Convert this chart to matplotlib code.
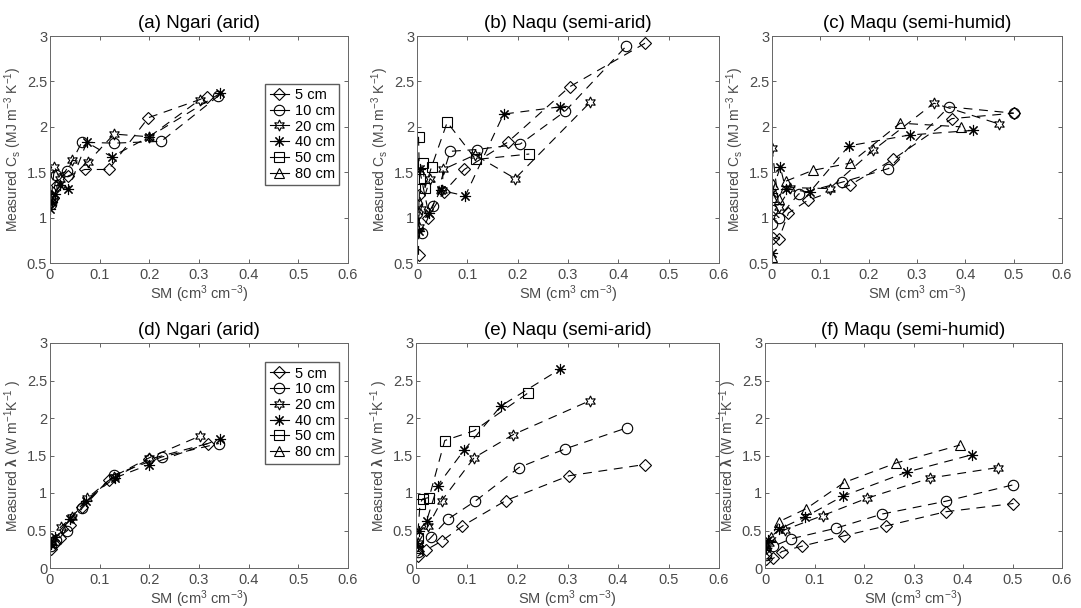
import matplotlib
matplotlib.use("Agg")
import matplotlib.pyplot as plt
from matplotlib.lines import Line2D

plt.rcParams['font.family'] = ['Liberation Sans', 'DejaVu Sans']
plt.rcParams['mathtext.fontset'] = 'custom'
plt.rcParams['mathtext.rm'] = 'Liberation Sans'
plt.rcParams['mathtext.it'] = 'Liberation Sans:italic'
plt.rcParams['mathtext.bf'] = 'Liberation Sans:bold'

depths = [5, 10, 20, 40, 50, 80]
depth_labels = ['5 cm', '10 cm', '20 cm', '40 cm', '50 cm', '80 cm']

# heat capacity Cs (MJ m-3 K-1) vs soil moisture, per depth: (SM, value)
cs_ngari = {
    5: ([0.002, 0.006, 0.015, 0.037, 0.07, 0.118, 0.198, 0.317],
        [1.17, 1.22, 1.36, 1.46, 1.53, 1.53, 2.10, 2.33]),
    10: ([0.002, 0.005, 0.013, 0.034, 0.064, 0.129, 0.224, 0.339],
         [1.15, 1.20, 1.47, 1.51, 1.83, 1.82, 1.84, 2.34]),
    20: ([0.003, 0.009, 0.02, 0.045, 0.076, 0.129, 0.2, 0.302],
         [1.24, 1.56, 1.42, 1.63, 1.61, 1.92, 1.89, 2.30]),
    40: ([0.001, 0.004, 0.01, 0.02, 0.037, 0.074, 0.124, 0.2, 0.343],
         [1.09, 1.17, 1.26, 1.36, 1.31, 1.83, 1.67, 1.89, 2.37]),
}
cs_naqu = {
    5: ([0.003, 0.004, 0.021, 0.053, 0.094, 0.18, 0.303, 0.453],
        [0.59, 1.25, 1.0, 1.28, 1.53, 1.83, 2.44, 2.92]),
    10: ([0.0, 0.009, 0.032, 0.066, 0.119, 0.205, 0.294, 0.416],
         [1.05, 0.83, 1.13, 1.73, 1.75, 1.81, 2.17, 2.89]),
    20: ([0.003, 0.008, 0.026, 0.05, 0.052, 0.115, 0.195, 0.344],
         [0.9, 1.1, 1.43, 1.30, 1.53, 1.69, 1.43, 2.27]),
    40: ([0.004, 0.005, 0.023, 0.047, 0.096, 0.172, 0.284],
         [0.85, 1.53, 1.05, 1.30, 1.24, 2.14, 2.22]),
    50: ([0.003, 0.005, 0.011, 0.016, 0.029, 0.06, 0.117, 0.223],
         [1.89, 1.43, 1.60, 1.33, 1.56, 2.05, 1.64, 1.70]),
}
cs_maqu = {
    5: ([0.002, 0.014, 0.034, 0.074, 0.162, 0.25, 0.372, 0.5],
        [0.78, 0.76, 1.05, 1.19, 1.36, 1.64, 2.09, 2.15]),
    10: ([0.0, 0.0, 0.014, 0.055, 0.145, 0.241, 0.366, 0.5],
         [0.93, 1.08, 1.0, 1.26, 1.39, 1.54, 2.22, 2.15]),
    20: ([0.0, 0.014, 0.038, 0.119, 0.209, 0.335, 0.47],
         [1.77, 1.12, 1.33, 1.32, 1.74, 2.26, 2.03]),
    40: ([0.0, 0.0, 0.017, 0.028, 0.078, 0.159, 0.285, 0.415],
         [0.61, 1.27, 1.56, 1.32, 1.28, 1.79, 1.91, 1.96]),
    80: ([0.0, 0.0, 0.003, 0.014, 0.028, 0.084, 0.162, 0.265, 0.39],
         [0.57, 1.23, 1.37, 1.20, 1.40, 1.52, 1.60, 2.04, 2.0]),
}

# thermal conductivity lambda (W m-1 K-1) vs soil moisture
lam_ngari = {
    5: ([0.002, 0.01, 0.02, 0.04, 0.065, 0.118, 0.2, 0.318],
        [0.26, 0.33, 0.40, 0.58, 0.82, 1.17, 1.45, 1.66]),
    10: ([0.002, 0.012, 0.035, 0.065, 0.128, 0.225, 0.34],
         [0.30, 0.38, 0.50, 0.80, 1.24, 1.48, 1.66]),
    20: ([0.004, 0.022, 0.045, 0.075, 0.128, 0.2, 0.302],
         [0.35, 0.55, 0.68, 0.93, 1.22, 1.47, 1.76]),
    40: ([0.003, 0.01, 0.04, 0.072, 0.13, 0.2, 0.343],
         [0.32, 0.42, 0.66, 0.90, 1.20, 1.38, 1.72]),
}
lam_naqu = {
    5: ([0.003, 0.02, 0.051, 0.092, 0.178, 0.303, 0.453],
        [0.155, 0.24, 0.36, 0.56, 0.90, 1.23, 1.38]),
    10: ([0.003, 0.03, 0.063, 0.117, 0.204, 0.296, 0.418],
         [0.22, 0.41, 0.65, 0.89, 1.34, 1.59, 1.87]),
    20: ([0.004, 0.024, 0.051, 0.115, 0.193, 0.344],
         [0.33, 0.56, 0.90, 1.47, 1.78, 2.23]),
    40: ([0.003, 0.005, 0.021, 0.043, 0.095, 0.168, 0.285],
         [0.29, 0.49, 0.63, 1.10, 1.57, 2.16, 2.65]),
    50: ([0.002, 0.003, 0.008, 0.013, 0.026, 0.057, 0.115, 0.221],
         [0.27, 0.40, 0.86, 0.92, 0.94, 1.70, 1.83, 2.33]),
}
lam_maqu = {
    5: ([0.002, 0.017, 0.034, 0.074, 0.16, 0.244, 0.365, 0.502],
        [0.12, 0.13, 0.22, 0.29, 0.43, 0.56, 0.75, 0.86]),
    10: ([0.003, 0.017, 0.053, 0.143, 0.237, 0.365, 0.502],
         [0.18, 0.29, 0.39, 0.53, 0.72, 0.89, 1.11]),
    20: ([0.009, 0.04, 0.117, 0.206, 0.334, 0.471],
         [0.33, 0.51, 0.70, 0.93, 1.20, 1.34]),
    40: ([0.003, 0.007, 0.029, 0.081, 0.158, 0.287, 0.418],
         [0.27, 0.38, 0.52, 0.68, 0.96, 1.28, 1.51]),
    80: ([0.003, 0.013, 0.029, 0.083, 0.16, 0.265, 0.394],
         [0.31, 0.42, 0.62, 0.79, 1.14, 1.40, 1.64]),
}

markers = {5: 'D', 10: 'o', 20: (6, 1, 0), 40: (8, 2, 0), 50: 's', 80: '^'}
msizes = {5: 6.5, 10: 7.5, 20: 8, 40: 8, 50: 6.5, 80: 7.5}
DASH = (0, (8, 6))
GREY = '#4a4a4a'

fig = plt.figure(figsize=(10.81, 6.08), dpi=100)
W, H = 1081, 608


def add_axes(l, r, t, b):
    return fig.add_axes([l / W, 1 - b / H, (r - l) / W, (b - t) / H])


panels = [
    (add_axes(50, 348, 36, 263), cs_ngari, '(a) Ngari (arid)', 'cs', True),
    (add_axes(417, 719, 36, 263), cs_naqu, '(b) Naqu (semi-arid)', 'cs', False),
    (add_axes(772, 1062, 36, 263), cs_maqu, '(c) Maqu (semi-humid)', 'cs', False),
    (add_axes(50, 348, 343, 568), lam_ngari, '(d) Ngari (arid)', 'lam', True),
    (add_axes(416, 719, 343, 568), lam_naqu, '(e) Naqu (semi-arid)', 'lam', False),
    (add_axes(765, 1062, 343, 568), lam_maqu, '(f) Maqu (semi-humid)', 'lam', False),
]

for ax, data, title, kind, show_legend in panels:
    for d in depths:
        if d not in data:
            continue
        sm, val = data[d]
        ax.plot(sm, val, color='k', lw=0.8, linestyle=DASH,
                marker=markers[d], ms=msizes[d], mfc='none', mec='k', mew=0.8)
    ax.set_xlim(0, 0.6)
    ax.set_xticks([0, 0.1, 0.2, 0.3, 0.4, 0.5, 0.6])
    ax.set_xticklabels(['0', '0.1', '0.2', '0.3', '0.4', '0.5', '0.6'])
    if kind == 'cs':
        ax.set_ylim(0.5, 3)
        ax.set_yticks([0.5, 1, 1.5, 2, 2.5, 3])
        ax.set_yticklabels(['0.5', '1', '1.5', '2', '2.5', '3'])
        ax.set_ylabel('Measured C$_\\mathrm{s}$ (MJ m$^{-3}$ K$^{-1}$)',
                      fontsize=10, color=GREY, labelpad=2)
    else:
        ax.set_ylim(0, 3)
        ax.set_yticks([0, 0.5, 1, 1.5, 2, 2.5, 3])
        ax.set_yticklabels(['0', '0.5', '1', '1.5', '2', '2.5', '3'])
        ax.set_ylabel('Measured $\\mathbf{\\lambda}$ (W m$^{-1}$K$^{-1}$ )',
                      fontsize=10, color=GREY, labelpad=2)
    ax.set_xlabel('SM (cm$^{3}$ cm$^{-3}$)', fontsize=10.5, color=GREY, labelpad=1)
    ax.set_title(title, fontsize=13.5, pad=6)
    ax.tick_params(direction='in', length=3, width=0.6, colors=GREY,
                   labelsize=10.5, top=True, right=True)
    ax.tick_params(axis='y', pad=2)
    for s in ax.spines.values():
        s.set_color('#666666')
        s.set_linewidth(0.7)

    if show_legend:
        handles = [Line2D([], [], color='k', lw=0.8, linestyle='-',
                          marker=markers[d], ms=msizes[d], mfc='none', mec='k', mew=0.8)
                   for d in depths]
        ax.legend(handles, depth_labels, loc='upper right',
                  bbox_to_anchor=(0.97, 0.79 if kind == 'cs' else 0.915),
                  fontsize=10.5, frameon=True, fancybox=False, edgecolor='#333333',
                  handlelength=1.3, handletextpad=0.4, borderpad=0.3,
                  labelspacing=0.12, borderaxespad=0)

fig.savefig('out.png', dpi=100)
